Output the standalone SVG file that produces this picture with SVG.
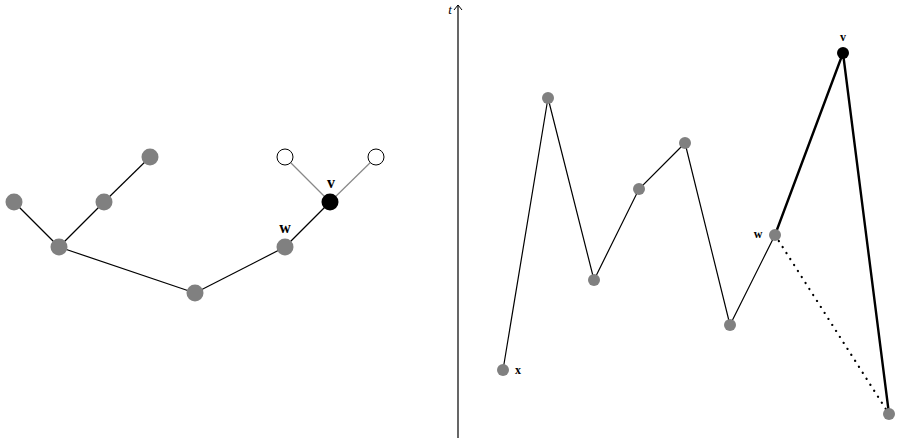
<svg xmlns="http://www.w3.org/2000/svg" width="900" height="442" viewBox="0 0 900 442">
<style>
.e{stroke:#000;stroke-width:1.2;fill:none}
.eg{stroke:#888;stroke-width:1.2;fill:none}
.b{stroke:#000;stroke-width:2.4;fill:none}
.d{stroke:#000;stroke-width:2.2;stroke-dasharray:0.1 7;stroke-linecap:round;fill:none}
.g{fill:#808080}
.k{fill:#000}
.w{fill:#fff;stroke:#000;stroke-width:1}
.lbl{font-family:"Liberation Serif",serif;font-weight:bold;text-anchor:middle}
</style>
<defs>
<marker id="ar" viewBox="0 0 10 10" refX="9" refY="5" markerWidth="10" markerHeight="10" markerUnits="userSpaceOnUse" orient="auto">
<path d="M4,1 L9,5 L4,9" fill="none" stroke="#000" stroke-width="1"/>
</marker>
</defs>
<g id="connectors">
<line class="e" x1="14" y1="202" x2="59" y2="247"/>
<line class="e" x1="59" y1="247" x2="104" y2="202"/>
<line class="e" x1="104" y1="202" x2="150" y2="157"/>
<line class="e" x1="59" y1="247" x2="195" y2="293"/>
<line class="e" x1="195" y1="293" x2="285" y2="247"/>
<line class="e" x1="285" y1="247" x2="330" y2="202"/>
<line class="eg" x1="330" y1="202" x2="285" y2="157"/>
<line class="eg" x1="330" y1="202" x2="376" y2="157"/>
<line class="e" x1="458" y1="438" x2="458" y2="5" marker-end="url(#ar)"/>
<polyline class="e" points="503,370 548,98 594,280 639,189 685,143 730,325 775,235"/>
<polyline class="b" points="775,235 843,53 889,414"/>
<line class="d" x1="775" y1="235" x2="889" y2="414"/>
</g>
<g id="n1"><circle class="g" cx="14" cy="202" r="8.5"/></g>
<g id="n2"><circle class="g" cx="59" cy="247" r="8.5"/></g>
<g id="n3"><circle class="g" cx="104" cy="202" r="8.5"/></g>
<g id="n4"><circle class="g" cx="150" cy="157" r="8.5"/></g>
<g id="n5"><circle class="g" cx="195" cy="293" r="8.5"/></g>
<g id="n6"><circle class="g" cx="285" cy="247" r="8.5"/><text class="lbl" x="285" y="233" font-size="16">w</text></g>
<g id="n7"><circle class="k" cx="330" cy="202" r="8.5"/><text class="lbl" x="331" y="188" font-size="16">v</text></g>
<g id="n8"><circle class="w" cx="285" cy="157" r="8"/></g>
<g id="n9"><circle class="w" cx="376" cy="157" r="8"/></g>
<g id="axis-label"><text x="450" y="14" font-family="Liberation Serif,serif" font-style="italic" font-size="13" text-anchor="middle">t</text></g>
<g id="p1"><circle class="g" cx="503" cy="370" r="6"/><text class="lbl" x="518" y="374" font-size="12">x</text></g>
<g id="p2"><circle class="g" cx="548" cy="98" r="6"/></g>
<g id="p3"><circle class="g" cx="594" cy="280" r="6"/></g>
<g id="p4"><circle class="g" cx="639" cy="189" r="6"/></g>
<g id="p5"><circle class="g" cx="685" cy="143" r="6"/></g>
<g id="p6"><circle class="g" cx="730" cy="325" r="6"/></g>
<g id="p7"><circle class="g" cx="775" cy="235" r="6"/><text class="lbl" x="758" y="238" font-size="12">w</text></g>
<g id="p8"><circle class="k" cx="843" cy="53" r="6"/><text class="lbl" x="843" y="41" font-size="12">v</text></g>
<g id="p9"><circle class="g" cx="889" cy="414" r="6"/></g>
</svg>
